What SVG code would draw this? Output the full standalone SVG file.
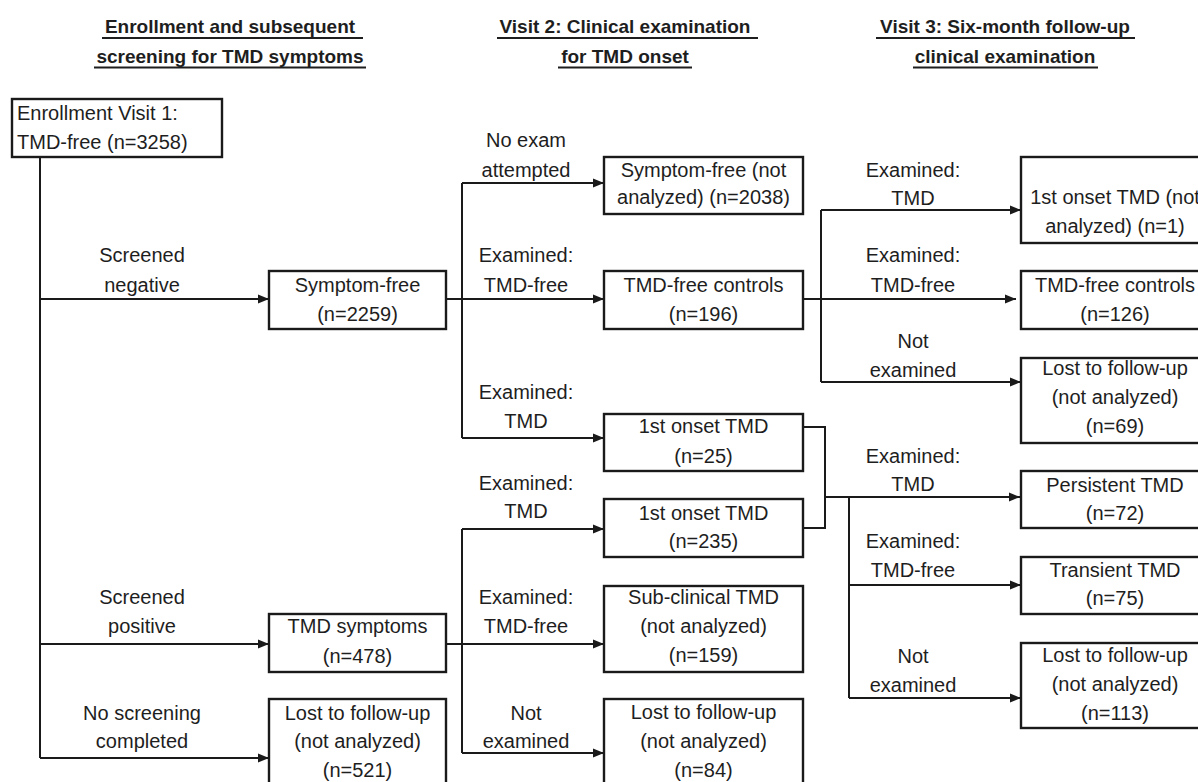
<svg xmlns="http://www.w3.org/2000/svg" width="1198" height="782" viewBox="0 0 1198 782">
<defs>
<marker id="arr" markerUnits="userSpaceOnUse" markerWidth="12" markerHeight="12" refX="11" refY="5" orient="auto">
<path d="M0,0.5 L11,5 L0,9.5 Z" fill="#1a1a1a"/>
</marker>
<style>
text{font-family:"Liberation Sans",Arial,sans-serif;fill:#1e1e1e;}
.t{font-size:19px;font-weight:bold;text-anchor:middle;}
.ul{stroke:#1e1e1e;stroke-width:1.8;}
.n rect{fill:#fff;stroke:#1a1a1a;stroke-width:2.4;}
.n text{font-size:20px;text-anchor:middle;}
.lb{font-size:20px;text-anchor:middle;}
.c path{fill:none;stroke:#1a1a1a;stroke-width:2;}
.c .a{marker-end:url(#arr);}
</style>
</defs>
<rect width="1198" height="782" fill="#fff"/>
<g id="titles">
<text class="t" x="230" y="33">Enrollment and subsequent</text>
<line class="ul" x1="102" y1="38" x2="363" y2="38"/>
<text class="t" x="230" y="63">screening for TMD symptoms</text>
<line class="ul" x1="94" y1="67.5" x2="366" y2="67.5"/>
<text class="t" x="625" y="33">Visit 2: Clinical examination</text>
<line class="ul" x1="497" y1="38" x2="758" y2="38"/>
<text class="t" x="625" y="63">for TMD onset</text>
<line class="ul" x1="558" y1="67.5" x2="692" y2="67.5"/>
<text class="t" x="1005" y="33">Visit 3: Six-month follow-up</text>
<line class="ul" x1="876" y1="38" x2="1135" y2="38"/>
<text class="t" x="1005" y="63">clinical examination</text>
<line class="ul" x1="913" y1="67.5" x2="1098" y2="67.5"/>
</g>
<g id="connectors" class="c">
<path d="M40,157 V758"/>
<path class="a" d="M40,299 H269"/>
<path class="a" d="M40,644 H269"/>
<path class="a" d="M40,758 H269"/>
<path d="M462,183 V438"/>
<path class="a" d="M462,183 H604"/>
<path class="a" d="M446,299 H604"/>
<path class="a" d="M462,438 H604"/>
<path d="M462,529 V753"/>
<path class="a" d="M462,529 H604"/>
<path class="a" d="M446,644 H604"/>
<path class="a" d="M462,753 H604"/>
<path d="M821,210 V382"/>
<path class="a" d="M821,210 H1021"/>
<path class="a" d="M803,299 H1016"/>
<path class="a" d="M821,382 H1021"/>
<path d="M803,427 H825 V528 H803"/>
<path class="a" d="M825,497 H1020"/>
<path d="M849,497 V698"/>
<path class="a" d="M849,585 H1021"/>
<path class="a" d="M849,698 H1021"/>
</g>
<g id="labels">
<text class="lb" x="142" y="262">Screened</text>
<text class="lb" x="142" y="292">negative</text>
<text class="lb" x="142" y="604">Screened</text>
<text class="lb" x="142" y="633">positive</text>
<text class="lb" x="142" y="720">No screening</text>
<text class="lb" x="142" y="748">completed</text>
<text class="lb" x="526" y="147">No exam</text>
<text class="lb" x="526" y="177">attempted</text>
<text class="lb" x="526" y="262">Examined:</text>
<text class="lb" x="526" y="292">TMD-free</text>
<text class="lb" x="526" y="399">Examined:</text>
<text class="lb" x="526" y="428">TMD</text>
<text class="lb" x="526" y="490">Examined:</text>
<text class="lb" x="526" y="518">TMD</text>
<text class="lb" x="526" y="604">Examined:</text>
<text class="lb" x="526" y="633">TMD-free</text>
<text class="lb" x="526" y="720">Not</text>
<text class="lb" x="526" y="748">examined</text>
<text class="lb" x="913" y="177">Examined:</text>
<text class="lb" x="913" y="205">TMD</text>
<text class="lb" x="913" y="262">Examined:</text>
<text class="lb" x="913" y="292">TMD-free</text>
<text class="lb" x="913" y="348">Not</text>
<text class="lb" x="913" y="377">examined</text>
<text class="lb" x="913" y="463">Examined:</text>
<text class="lb" x="913" y="491">TMD</text>
<text class="lb" x="913" y="548">Examined:</text>
<text class="lb" x="913" y="577">TMD-free</text>
<text class="lb" x="913" y="663">Not</text>
<text class="lb" x="913" y="692">examined</text>
</g>
<g id="n_enroll" class="n">
<rect x="12" y="99" width="210" height="58"/>
<text x="17" y="120" style="text-anchor:start">Enrollment Visit 1:</text>
<text x="17" y="149" style="text-anchor:start">TMD-free (n=3258)</text>
</g>
<g id="n_symfree" class="n">
<rect x="269" y="271" width="177" height="58"/>
<text x="357.5" y="292">Symptom-free</text>
<text x="357.5" y="321">(n=2259)</text>
</g>
<g id="n_tmdsym" class="n">
<rect x="269" y="614" width="177" height="58"/>
<text x="357.5" y="633">TMD symptoms</text>
<text x="357.5" y="663">(n=478)</text>
</g>
<g id="n_lost1" class="n">
<rect x="269" y="699" width="177" height="100"/>
<text x="357.5" y="720">Lost to follow-up</text>
<text x="357.5" y="748">(not analyzed)</text>
<text x="357.5" y="777">(n=521)</text>
</g>
<g id="n_sfna" class="n">
<rect x="604" y="157" width="199" height="57"/>
<text x="703.5" y="177">Symptom-free (not</text>
<text x="703.5" y="204">analyzed) (n=2038)</text>
</g>
<g id="n_ctrl2" class="n">
<rect x="604" y="271" width="199" height="58"/>
<text x="703.5" y="292">TMD-free controls</text>
<text x="703.5" y="321">(n=196)</text>
</g>
<g id="n_onset25" class="n">
<rect x="604" y="414" width="199" height="57"/>
<text x="703.5" y="433">1st onset TMD</text>
<text x="703.5" y="463">(n=25)</text>
</g>
<g id="n_onset235" class="n">
<rect x="604" y="499" width="199" height="58"/>
<text x="703.5" y="520">1st onset TMD</text>
<text x="703.5" y="548">(n=235)</text>
</g>
<g id="n_subclin" class="n">
<rect x="604" y="586" width="199" height="86"/>
<text x="703.5" y="604">Sub-clinical TMD</text>
<text x="703.5" y="633">(not analyzed)</text>
<text x="703.5" y="662">(n=159)</text>
</g>
<g id="n_lost2" class="n">
<rect x="604" y="699" width="199" height="100"/>
<text x="703.5" y="719">Lost to follow-up</text>
<text x="703.5" y="748">(not analyzed)</text>
<text x="703.5" y="777">(n=84)</text>
</g>
<g id="n_onset1" class="n">
<rect x="1021" y="157" width="190" height="86"/>
<text x="1115" y="204">1st onset TMD (not</text>
<text x="1115" y="233">analyzed) (n=1)</text>
</g>
<g id="n_ctrl3" class="n">
<rect x="1021" y="271" width="190" height="58"/>
<text x="1115" y="292">TMD-free controls</text>
<text x="1115" y="321">(n=126)</text>
</g>
<g id="n_lost3" class="n">
<rect x="1021" y="358" width="190" height="85"/>
<text x="1115" y="375">Lost to follow-up</text>
<text x="1115" y="404">(not analyzed)</text>
<text x="1115" y="433">(n=69)</text>
</g>
<g id="n_persist" class="n">
<rect x="1021" y="471" width="190" height="57"/>
<text x="1115" y="492">Persistent TMD</text>
<text x="1115" y="520">(n=72)</text>
</g>
<g id="n_trans" class="n">
<rect x="1021" y="557" width="190" height="57"/>
<text x="1115" y="577">Transient TMD</text>
<text x="1115" y="605">(n=75)</text>
</g>
<g id="n_lost4" class="n">
<rect x="1021" y="643" width="190" height="85"/>
<text x="1115" y="662">Lost to follow-up</text>
<text x="1115" y="691">(not analyzed)</text>
<text x="1115" y="720">(n=113)</text>
</g>
</svg>
